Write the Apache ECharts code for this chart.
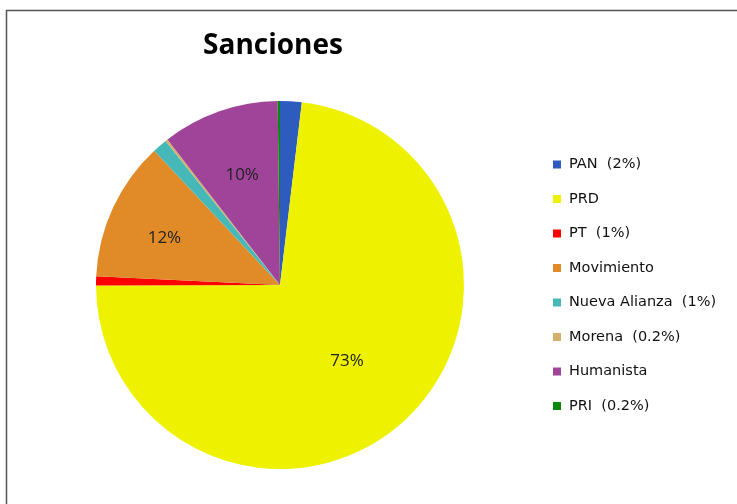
<!DOCTYPE html>
<html><head><meta charset="utf-8">
<script src="https://cdn.jsdelivr.net/npm/echarts@6/dist/echarts.min.js"></script>
<style>html,body{margin:0;padding:0;background:#fff}#c{width:737px;height:504px}</style>
</head><body><div id="c"></div>
<script>
const categories = ['PAN  (2%)', 'PRD', 'PT  (1%)', 'Movimiento', 'Nueva Alianza  (1%)', 'Morena  (0.2%)', 'Humanista', 'PRI  (0.2%)'];
const values = [1.9, 73.2, 0.8, 12.3, 1.3, 0.2, 10.3, 0.2];
const colors = ['#2E5BBE', '#EEF200', '#FF0000', '#E08A28', '#46B8B8', '#D4B06A', '#A0449A', '#0A8A0A'];

const CX = 280, CY = 285, R = 184;
// radial push / vertical nudge of the inside labels (Excel-like placement)
const labelPush = [1, 1.06, 1, 1.34, 1, 1, 1.21, 1];
const labelNudgeY = [0, 1, 0, 7, 0, 0, -1, 0];

const chart = echarts.init(document.getElementById('c'), null, {renderer: 'canvas'});
chart.setOption({
  animation: false,
  color: colors,
  title: {
    text: 'Sanciones', left: 268, top: 27, textAlign: 'center',
    textStyle: {fontFamily: 'Open Sans', fontWeight: 'bold', fontSize: 28, color: '#000'}
  },
  graphic: [{
    type: 'rect', shape: {x: 6.5, y: 10.5, width: 800, height: 600},
    style: {fill: 'none', stroke: '#555', lineWidth: 1.5}, silent: true
  }],
  legend: {
    orient: 'vertical', left: 548, top: 152,
    icon: 'rect', itemWidth: 8, itemHeight: 8, itemGap: 19.5,
    textStyle: {fontFamily: 'DejaVu Sans', fontSize: 14.5, color: '#111', lineHeight: 14, padding: [0,0,0,3]},
    data: categories
  },
  series: [{
    type: 'pie', center: [CX, CY], radius: R,
    startAngle: 90, clockwise: true, avoidLabelOverlap: false,
    label: {
      position: 'inside', fontFamily: 'Open Sans', fontSize: 17, color: '#222',
      formatter: p => p.percent > 5 ? Math.round(p.value) + '%' : ''
    },
    labelLayout: p => {
      const k = labelPush[p.dataIndex];
      const lx = p.labelRect.x + p.labelRect.width / 2, ly = p.labelRect.y + p.labelRect.height / 2;
      return {dx: (lx - CX) * (k - 1), dy: (ly - CY) * (k - 1) + labelNudgeY[p.dataIndex]};
    },
    labelLine: {show: false},
    itemStyle: {borderWidth: 0},
    emphasis: {disabled: true},
    data: categories.map((n, i) => ({name: n, value: values[i]}))
  }]
});
</script></body></html>
